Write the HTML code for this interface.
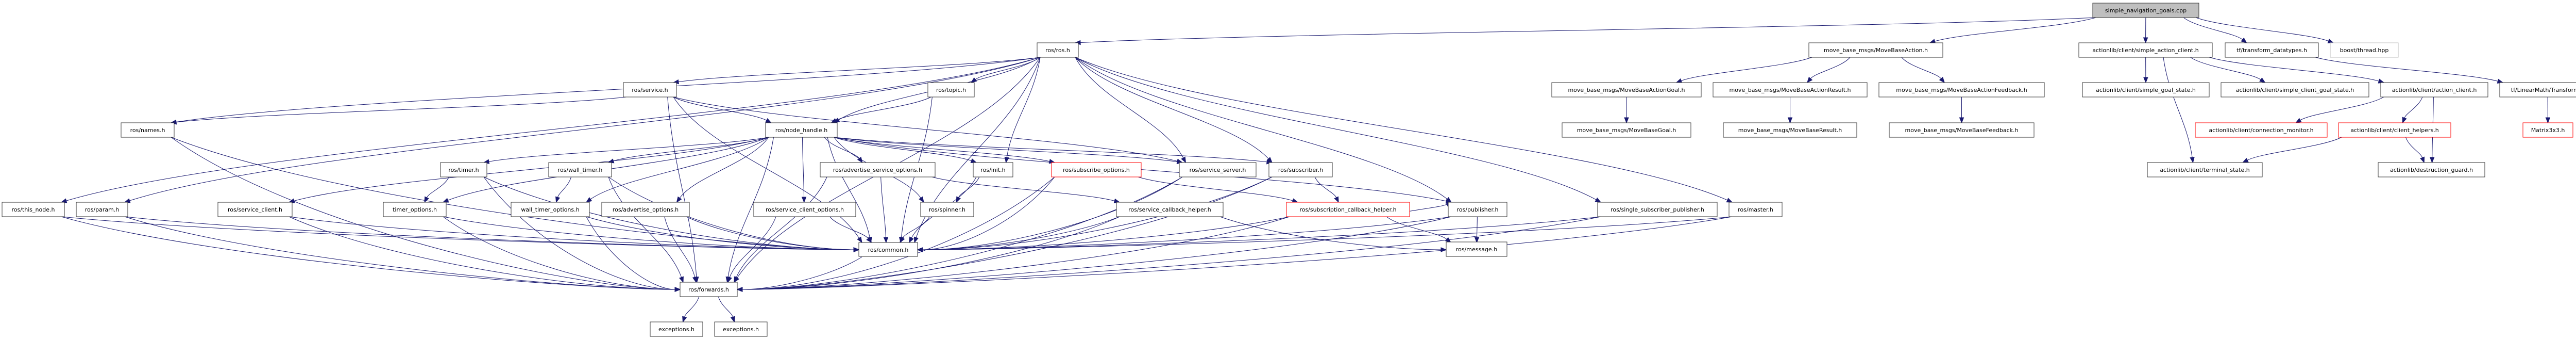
<!DOCTYPE html>
<html><head><meta charset="utf-8"><style>
html,body{margin:0;padding:0;background:#fff;}
svg{display:block;}
text{font-family:"DejaVu Sans","Liberation Sans",sans-serif;font-size:11px;fill:#000;}
</style></head><body>
<svg id="g" width="5043" height="659" xmlns="http://www.w3.org/2000/svg">
<g id="edges" fill="none" stroke="#191970" stroke-width="1"></g>
<g id="heads" fill="#191970" stroke="#191970"></g>
<g id="nodes" stroke-width="1">
<rect x="4062" y="6" width="206" height="28" fill="#bfbfbf" stroke="#333"/><text x="4165" y="24" text-anchor="middle">simple_navigation_goals.cpp</text>
<rect x="2013" y="83" width="80" height="28" fill="#fff" stroke="#333"/><text x="2053" y="101" text-anchor="middle">ros/ros.h</text>
<rect x="3511" y="83" width="260" height="28" fill="#fff" stroke="#333"/><text x="3641" y="101" text-anchor="middle">move_base_msgs/MoveBaseAction.h</text>
<rect x="4035" y="83" width="259" height="28" fill="#fff" stroke="#333"/><text x="4164.5" y="101" text-anchor="middle">actionlib/client/simple_action_client.h</text>
<rect x="4319" y="83" width="181" height="28" fill="#fff" stroke="#333"/><text x="4409.5" y="101" text-anchor="middle">tf/transform_datatypes.h</text>
<rect x="4523" y="83" width="132" height="28" fill="#fff" stroke="#bfbfbf"/><text x="4589" y="101" text-anchor="middle">boost/thread.hpp</text>
<rect x="1210" y="160" width="103" height="28" fill="#fff" stroke="#333"/><text x="1261.5" y="178" text-anchor="middle">ros/service.h</text>
<rect x="1801" y="160" width="90" height="28" fill="#fff" stroke="#333"/><text x="1846" y="178" text-anchor="middle">ros/topic.h</text>
<rect x="3012" y="160" width="290" height="28" fill="#fff" stroke="#333"/><text x="3157" y="178" text-anchor="middle">move_base_msgs/MoveBaseActionGoal.h</text>
<rect x="3325" y="160" width="299" height="28" fill="#fff" stroke="#333"/><text x="3474.5" y="178" text-anchor="middle">move_base_msgs/MoveBaseActionResult.h</text>
<rect x="3647" y="160" width="321" height="28" fill="#fff" stroke="#333"/><text x="3807.5" y="178" text-anchor="middle">move_base_msgs/MoveBaseActionFeedback.h</text>
<rect x="4042" y="160" width="246" height="28" fill="#fff" stroke="#333"/><text x="4165" y="178" text-anchor="middle">actionlib/client/simple_goal_state.h</text>
<rect x="4311" y="160" width="287" height="28" fill="#fff" stroke="#333"/><text x="4454.5" y="178" text-anchor="middle">actionlib/client/simple_client_goal_state.h</text>
<rect x="4621" y="160" width="208" height="28" fill="#fff" stroke="#333"/><text x="4725" y="178" text-anchor="middle">actionlib/client/action_client.h</text>
<rect x="4852" y="160" width="186" height="28" fill="#fff" stroke="#333"/><text x="4945" y="178" text-anchor="middle">tf/LinearMath/Transform.h</text>
<rect x="235" y="238" width="103" height="28" fill="#fff" stroke="#333"/><text x="286.5" y="256" text-anchor="middle">ros/names.h</text>
<rect x="1486" y="238" width="139" height="28" fill="#fff" stroke="#333"/><text x="1555.5" y="256" text-anchor="middle">ros/node_handle.h</text>
<rect x="3032" y="238" width="250" height="28" fill="#fff" stroke="#333"/><text x="3157" y="256" text-anchor="middle">move_base_msgs/MoveBaseGoal.h</text>
<rect x="3345" y="238" width="259" height="28" fill="#fff" stroke="#333"/><text x="3474.5" y="256" text-anchor="middle">move_base_msgs/MoveBaseResult.h</text>
<rect x="3667" y="238" width="281" height="28" fill="#fff" stroke="#333"/><text x="3807.5" y="256" text-anchor="middle">move_base_msgs/MoveBaseFeedback.h</text>
<rect x="4261" y="238" width="256" height="28" fill="#fff" stroke="#ff0000"/><text x="4389" y="256" text-anchor="middle">actionlib/client/connection_monitor.h</text>
<rect x="4539" y="238" width="218" height="28" fill="#fff" stroke="#ff0000"/><text x="4648" y="256" text-anchor="middle">actionlib/client/client_helpers.h</text>
<rect x="4897" y="238" width="97" height="28" fill="#fff" stroke="#ff0000"/><text x="4945.5" y="256" text-anchor="middle">Matrix3x3.h</text>
<rect x="855" y="315" width="90" height="28" fill="#fff" stroke="#333"/><text x="900" y="333" text-anchor="middle">ros/timer.h</text>
<rect x="1065" y="315" width="122" height="28" fill="#fff" stroke="#333"/><text x="1126" y="333" text-anchor="middle">ros/wall_timer.h</text>
<rect x="1592" y="315" width="223" height="28" fill="#fff" stroke="#333"/><text x="1703.5" y="333" text-anchor="middle">ros/advertise_service_options.h</text>
<rect x="1889" y="315" width="77" height="28" fill="#fff" stroke="#333"/><text x="1927.5" y="333" text-anchor="middle">ros/init.h</text>
<rect x="2041" y="315" width="174" height="28" fill="#fff" stroke="#ff0000"/><text x="2128" y="333" text-anchor="middle">ros/subscribe_options.h</text>
<rect x="2289" y="315" width="149" height="28" fill="#fff" stroke="#333"/><text x="2363.5" y="333" text-anchor="middle">ros/service_server.h</text>
<rect x="2463" y="315" width="123" height="28" fill="#fff" stroke="#333"/><text x="2524.5" y="333" text-anchor="middle">ros/subscriber.h</text>
<rect x="4168" y="315" width="223" height="28" fill="#fff" stroke="#333"/><text x="4279.5" y="333" text-anchor="middle">actionlib/client/terminal_state.h</text>
<rect x="4616" y="315" width="207" height="28" fill="#fff" stroke="#333"/><text x="4719.5" y="333" text-anchor="middle">actionlib/destruction_guard.h</text>
<rect x="4" y="392" width="121" height="28" fill="#fff" stroke="#333"/><text x="64.5" y="410" text-anchor="middle">ros/this_node.h</text>
<rect x="148" y="392" width="100" height="28" fill="#fff" stroke="#333"/><text x="198" y="410" text-anchor="middle">ros/param.h</text>
<rect x="423" y="392" width="144" height="28" fill="#fff" stroke="#333"/><text x="495" y="410" text-anchor="middle">ros/service_client.h</text>
<rect x="744" y="392" width="122" height="28" fill="#fff" stroke="#333"/><text x="805" y="410" text-anchor="middle">timer_options.h</text>
<rect x="992" y="392" width="152" height="28" fill="#fff" stroke="#333"/><text x="1068" y="410" text-anchor="middle">wall_timer_options.h</text>
<rect x="1168" y="392" width="170" height="28" fill="#fff" stroke="#333"/><text x="1253" y="410" text-anchor="middle">ros/advertise_options.h</text>
<rect x="1463" y="392" width="198" height="28" fill="#fff" stroke="#333"/><text x="1562" y="410" text-anchor="middle">ros/service_client_options.h</text>
<rect x="1787" y="392" width="103" height="28" fill="#fff" stroke="#333"/><text x="1838.5" y="410" text-anchor="middle">ros/spinner.h</text>
<rect x="2167" y="392" width="207" height="28" fill="#fff" stroke="#333"/><text x="2270.5" y="410" text-anchor="middle">ros/service_callback_helper.h</text>
<rect x="2497" y="392" width="239" height="28" fill="#fff" stroke="#ff0000"/><text x="2616.5" y="410" text-anchor="middle">ros/subscription_callback_helper.h</text>
<rect x="2811" y="392" width="114" height="28" fill="#fff" stroke="#333"/><text x="2868" y="410" text-anchor="middle">ros/publisher.h</text>
<rect x="3101" y="392" width="232" height="28" fill="#fff" stroke="#333"/><text x="3217" y="410" text-anchor="middle">ros/single_subscriber_publisher.h</text>
<rect x="3356" y="392" width="103" height="28" fill="#fff" stroke="#333"/><text x="3407.5" y="410" text-anchor="middle">ros/master.h</text>
<rect x="1667" y="470" width="114" height="27" fill="#fff" stroke="#333"/><text x="1724" y="488" text-anchor="middle">ros/common.h</text>
<rect x="2807" y="469" width="118" height="28" fill="#fff" stroke="#333"/><text x="2866" y="487" text-anchor="middle">ros/message.h</text>
<rect x="1320" y="547" width="111" height="28" fill="#fff" stroke="#333"/><text x="1375.5" y="565" text-anchor="middle">ros/forwards.h</text>
<rect x="1262" y="624" width="102" height="28" fill="#fff" stroke="#333"/><text x="1313" y="642" text-anchor="middle">exceptions.h</text>
<rect x="1387" y="624" width="102" height="28" fill="#fff" stroke="#333"/><text x="1438" y="642" text-anchor="middle">exceptions.h</text>
</g>
</svg>
<script>
var RY=[6,83,160,238,315,392,470,547,624];
var N={cpp:[4062,4268,0],ros:[2013,2093,1],mba:[3511,3771,1],sac:[4035,4294,1],tfd:[4319,4500,1],bth:[4523,4655,1],
srv:[1210,1313,2],top:[1801,1891,2],mag:[3012,3302,2],mar:[3325,3624,2],maf:[3647,3968,2],sgs:[4042,4288,2],scg:[4311,4598,2],acl:[4621,4829,2],ltr:[4852,5038,2],
nam:[235,338,3],nh:[1486,1625,3],mg:[3032,3282,3],mr:[3345,3604,3],mf:[3667,3948,3],cm:[4261,4517,3],ch:[4539,4757,3],m33:[4897,4994,3],
tim:[855,945,4],wt:[1065,1187,4],aso:[1592,1815,4],ini:[1889,1966,4],so:[2041,2215,4],ss:[2289,2438,4],sub:[2463,2586,4],ts:[4168,4391,4],dg:[4616,4823,4],
tn:[4,125,5],par:[148,248,5],sc:[423,567,5],to:[744,866,5],wto:[992,1144,5],ao:[1168,1338,5],sco:[1463,1661,5],spn:[1787,1890,5],sch:[2167,2374,5],sbh:[2497,2736,5],pub:[2811,2925,5],ssp:[3101,3333,5],mst:[3356,3459,5],
com:[1667,1781,6],msg:[2807,2925,6],fwd:[1320,1431,7],ex1:[1262,1364,8],ex2:[1387,1489,8]};
var E=[["cpp","ros"],["cpp","mba"],["cpp","sac"],["cpp","tfd"],["cpp","bth"],
["ros","srv"],["ros","nam"],["ros","nh"],["ros","top"],["ros","ini"],["ros","tn"],["ros","par"],["ros","ss"],["ros","sub"],["ros","pub"],["ros","ssp"],["ros","mst"],["ros","com"],["ros","fwd"],
["srv","nam"],["srv","nh"],["srv","com"],["srv","fwd"],["srv","ss"],
["top","nh"],["top","com"],
["nh","tim"],["nh","wt"],["nh","to"],["nh","wto"],["nh","ao"],["nh","sco"],["nh","aso"],["nh","sc"],["nh","ini"],["nh","spn"],["nh","so"],["nh","ss"],["nh","sub"],["nh","pub"],["nh","com"],["nh","fwd"],
["nam","fwd"],["nam","com"],["tn","com"],["tn","fwd"],["par","com"],["par","fwd"],["sc","com"],["sc","fwd"],
["tim","to"],["tim","com"],["tim","fwd"],["wt","wto"],["wt","com"],["wt","fwd"],
["to","com"],["to","fwd"],["wto","com"],["wto","fwd"],["ao","com"],["ao","fwd"],["sco","com"],["sco","fwd"],
["aso","sch"],["aso","com"],["aso","fwd"],["ini","spn"],["ini","com"],["spn","com"],
["so","sbh"],["so","com"],["so","fwd"],["ss","com"],["ss","fwd"],["sub","sbh"],["sub","com"],["sub","fwd"],
["sch","com"],["sch","fwd"],["sch","msg"],["sbh","pub"],["sbh","com"],["sbh","fwd"],["sbh","msg"],
["pub","msg"],["pub","com"],["pub","fwd"],["ssp","com"],["ssp","fwd"],["mst","com"],["mst","fwd"],
["com","fwd"],["fwd","ex1"],["fwd","ex2"],
["mba","mag"],["mba","mar"],["mba","maf"],["mag","mg"],["mar","mr"],["maf","mf"],
["sac","sgs"],["sac","scg"],["sac","acl"],["sac","ts"],["acl","cm"],["acl","ch"],["acl","dg"],["ch","ts"],["ch","dg"],
["tfd","ltr"],["ltr","m33"]];
var eg=document.getElementById("edges"),hg=document.getElementById("heads"),NS="http://www.w3.org/2000/svg";
function cx(n){return (n[0]+n[1])/2;}
function cl(v,a,b){return Math.max(a,Math.min(b,v));}
E.forEach(function(e){
 var s=N[e[0]],t=N[e[1]];
 var scx=cx(s),tcx=cx(t),sy=RY[s[2]]+28,ty=RY[t[2]];
 var dx=tcx-scx,dy=ty-sy;
 var sx=cl(scx+dx*0.3,s[0]+6,s[1]-6);
 var tx,tyy,c1x,c1y,c2x,c2y;
 var side=(Math.abs(dx)>Math.max(250,dy*2))&&(e[1]=="com"||e[1]=="fwd"||e[1]=="msg");
 if(side){
  tyy=ty+14; tx=dx>0?t[0]:t[1];
  c1x=sx+(tx-sx)*0.25;c1y=sy+(tyy-sy)*0.6;c2x=tx+(dx>0?-1:1)*Math.min(200,Math.abs(tx-sx)*0.3);c2y=tyy;
 } else {
  tyy=ty; tx=cl(tcx-dx*0.2,t[0]+6,t[1]-6);
  c1x=sx+(tx-sx)*0.2;c1y=sy+dy*0.4;c2x=sx+(tx-sx)*0.8;c2y=tyy-dy*0.4;
 }
 var ang=Math.atan2(tyy-c2y,tx-c2x);
 var L=10,W=4;
 var bx=tx-L*Math.cos(ang),by=tyy-L*Math.sin(ang);
 var p=document.createElementNS(NS,"path");
 p.setAttribute("d","M"+sx+","+sy+" C"+c1x+","+c1y+" "+c2x+","+c2y+" "+bx+","+by);
 eg.appendChild(p);
 var h=document.createElementNS(NS,"polygon");
 var px=-Math.sin(ang)*W,py=Math.cos(ang)*W;
 h.setAttribute("points",tx+","+tyy+" "+(bx+px)+","+(by+py)+" "+(bx-px)+","+(by-py));
 hg.appendChild(h);
});
</script>
</body></html>
